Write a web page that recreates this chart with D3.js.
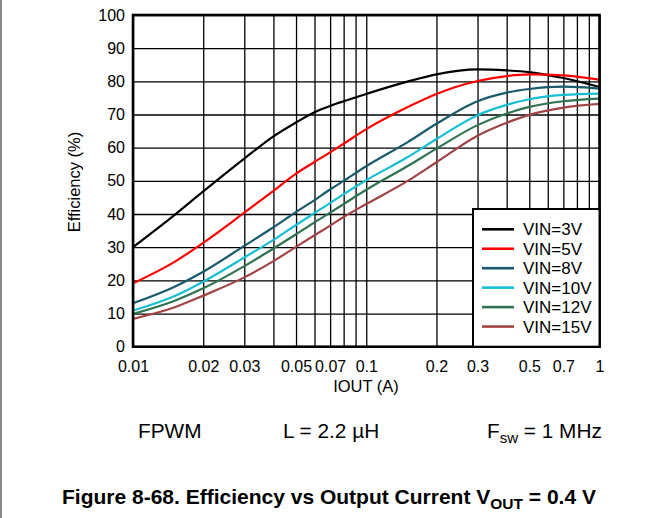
<!DOCTYPE html>
<html>
<head>
<meta charset="utf-8">
<script src="https://cdn.jsdelivr.net/npm/d3@7"></script>
<style>
  html, body { margin: 0; padding: 0; background: #fff; }
  svg { display: block; font-family: "Liberation Sans", Arial, Helvetica, sans-serif; }
</style>
</head>
<body>
<svg id="chart" width="661" height="518"></svg>
<script>
// Output current samples (A)
const currents = [0.01, 0.015, 0.02, 0.03, 0.04, 0.05, 0.06, 0.07, 0.08, 0.1, 0.15, 0.2, 0.3, 0.4, 0.5, 0.7, 1.0];

// Efficiency (%) per input voltage
const vin3  = [30.0, 39.6, 46.8, 56.7, 63.4, 67.6, 70.7, 72.6, 74.0, 76.2, 79.9, 82.1, 83.6, 83.3, 82.8, 81.0, 78.3];
const vin5  = [19.1, 25.5, 31.3, 40.4, 47.0, 52.2, 55.7, 58.6, 61.2, 65.6, 72.2, 76.2, 80.1, 81.6, 82.1, 81.8, 80.5];
const vin8  = [13.1, 18.0, 22.6, 30.4, 36.0, 40.6, 44.2, 47.4, 50.0, 54.4, 61.6, 67.2, 74.0, 76.6, 77.7, 78.4, 77.8];
const vin10 = [10.9, 15.2, 19.6, 26.9, 32.2, 36.7, 40.3, 43.3, 46.0, 50.2, 57.1, 62.6, 69.8, 72.9, 74.6, 75.9, 76.3];
const vin12 = [ 9.9, 13.8, 17.6, 24.3, 29.6, 33.9, 37.5, 40.4, 43.0, 47.3, 54.4, 59.7, 66.8, 70.3, 72.3, 74.0, 74.8];
const vin15 = [ 8.4, 11.8, 15.4, 20.9, 25.8, 30.1, 33.6, 36.5, 39.1, 43.0, 49.9, 55.6, 63.6, 67.5, 69.9, 72.1, 73.2];

const seriesNames  = ["VIN=3V", "VIN=5V", "VIN=8V", "VIN=10V", "VIN=12V", "VIN=15V"];
const seriesValues = [vin3, vin5, vin8, vin10, vin12, vin15];
const seriesColors = ["#000000", "#ff0000", "#1a5a6e", "#17bfd2", "#2e7352", "#a04444"];

// Axis ticks
const xTickValues = [0.01, 0.02, 0.03, 0.05, 0.07, 0.1, 0.2, 0.3, 0.5, 0.7, 1];
const xTickLabels = ["0.01", "0.02", "0.03", "0.05", "0.07", "0.1", "0.2", "0.3", "0.5", "0.7", "1"];
const xGridValues = [0.01, 0.02, 0.03, 0.04, 0.05, 0.06, 0.07, 0.08, 0.09,
                     0.1, 0.2, 0.3, 0.4, 0.5, 0.6, 0.7, 0.8, 0.9, 1];
const yTickValues = [0, 10, 20, 30, 40, 50, 60, 70, 80, 90, 100];

const svg = d3.select("#chart");
const plot = { left: 133, right: 599.5, top: 15, bottom: 346.7 };

const x = d3.scaleLog().domain([0.01, 1]).range([plot.left, plot.right]);
const y = d3.scaleLinear().domain([0, 100]).range([plot.bottom, plot.top]);

// page edge rule on the left
svg.append("line")
  .attr("x1", 1).attr("x2", 1).attr("y1", 0).attr("y2", 518)
  .attr("stroke", "#8a8a8a").attr("stroke-width", 2);

// grid
const gx = svg.append("g")
  .attr("transform", `translate(0,${plot.bottom})`)
  .call(d3.axisBottom(x).tickValues(xGridValues).tickSize(-(plot.bottom - plot.top)).tickFormat(""));
gx.select(".domain").remove();
gx.selectAll("line").attr("stroke", "#000").attr("stroke-width", 1.3);

const gy = svg.append("g")
  .attr("transform", `translate(${plot.left},0)`)
  .call(d3.axisLeft(y).tickValues(yTickValues).tickSize(-(plot.right - plot.left)).tickFormat(""));
gy.select(".domain").remove();
gy.selectAll("line").attr("stroke", "#000").attr("stroke-width", 1.3);

// tick labels
const ax = svg.append("g")
  .attr("transform", `translate(0,${plot.bottom})`)
  .call(d3.axisBottom(x).tickValues(xTickValues).tickSize(0).tickPadding(14)
        .tickFormat((d, i) => xTickLabels[i]));
ax.select(".domain").remove();
ax.selectAll("text").attr("font-size", 16).attr("fill", "#000")
  .attr("font-family", "'Liberation Sans', Arial, sans-serif");

const ay = svg.append("g")
  .attr("transform", `translate(${plot.left},0)`)
  .call(d3.axisLeft(y).tickValues(yTickValues).tickSize(0).tickPadding(8));
ay.select(".domain").remove();
ay.selectAll("text").attr("font-size", 16).attr("fill", "#000")
  .attr("font-family", "'Liberation Sans', Arial, sans-serif");

// curves
const line = d3.line()
  .x(d => x(d[0]))
  .y(d => y(d[1]))
  .curve(d3.curveMonotoneX);

const clipId = "plotClip";
svg.append("clipPath").attr("id", clipId)
  .append("rect")
  .attr("x", plot.left).attr("y", plot.top)
  .attr("width", plot.right - plot.left).attr("height", plot.bottom - plot.top);

const curves = svg.append("g").attr("clip-path", `url(#${clipId})`);
seriesValues.forEach((vals, i) => {
  curves.append("path")
    .datum(currents.map((c, k) => [c, vals[k]]))
    .attr("fill", "none")
    .attr("stroke", seriesColors[i])
    .attr("stroke-width", 2.2)
    .attr("stroke-linejoin", "round")
    .attr("d", line);
});

// plot frame
svg.append("rect")
  .attr("x", plot.left).attr("y", plot.top)
  .attr("width", plot.right - plot.left).attr("height", plot.bottom - plot.top)
  .attr("fill", "none").attr("stroke", "#000").attr("stroke-width", 2.6);

// legend
const legend = svg.append("g");
legend.append("rect")
  .attr("x", 473).attr("y", 209)
  .attr("width", plot.right - 473).attr("height", plot.bottom - 209)
  .attr("fill", "#fff").attr("stroke", "#000").attr("stroke-width", 2);

seriesNames.forEach((name, i) => {
  const ry = 229.3 + i * 19.45;
  legend.append("line")
    .attr("x1", 482).attr("x2", 514).attr("y1", ry).attr("y2", ry)
    .attr("stroke", seriesColors[i]).attr("stroke-width", 2.6);
  legend.append("text")
    .attr("x", 523).attr("y", ry).attr("dy", "0.36em")
    .attr("font-size", 17).attr("fill", "#000")
    .text(name);
});

// axis titles
svg.append("text")
  .attr("x", 366).attr("y", 392)
  .attr("text-anchor", "middle").attr("font-size", 16.5)
  .text("IOUT (A)");

svg.append("text")
  .attr("transform", "translate(80,182) rotate(-90)")
  .attr("text-anchor", "middle").attr("font-size", 16.5)
  .text("Efficiency (%)");

// operating conditions
svg.append("text").attr("x", 138).attr("y", 438).attr("font-size", 20.8).text("FPWM");
svg.append("text").attr("x", 283).attr("y", 438).attr("font-size", 20.8).text("L = 2.2 µH");
const fsw = svg.append("text").attr("x", 487).attr("y", 438).attr("font-size", 20.8);
fsw.append("tspan").text("F");
fsw.append("tspan").attr("font-size", 15).attr("dy", 5).text("sw");
fsw.append("tspan").attr("dy", -5).text(" = 1 MHz");

// caption
const cap = svg.append("text").attr("x", 62).attr("y", 504)
  .attr("font-size", 21).attr("font-weight", "bold");
cap.append("tspan").text("Figure 8-68. Efficiency vs Output Current V");
cap.append("tspan").attr("font-size", 15.5).attr("dy", 5).text("OUT");
cap.append("tspan").attr("dy", -5).text(" = 0.4 V");
</script>
</body>
</html>
